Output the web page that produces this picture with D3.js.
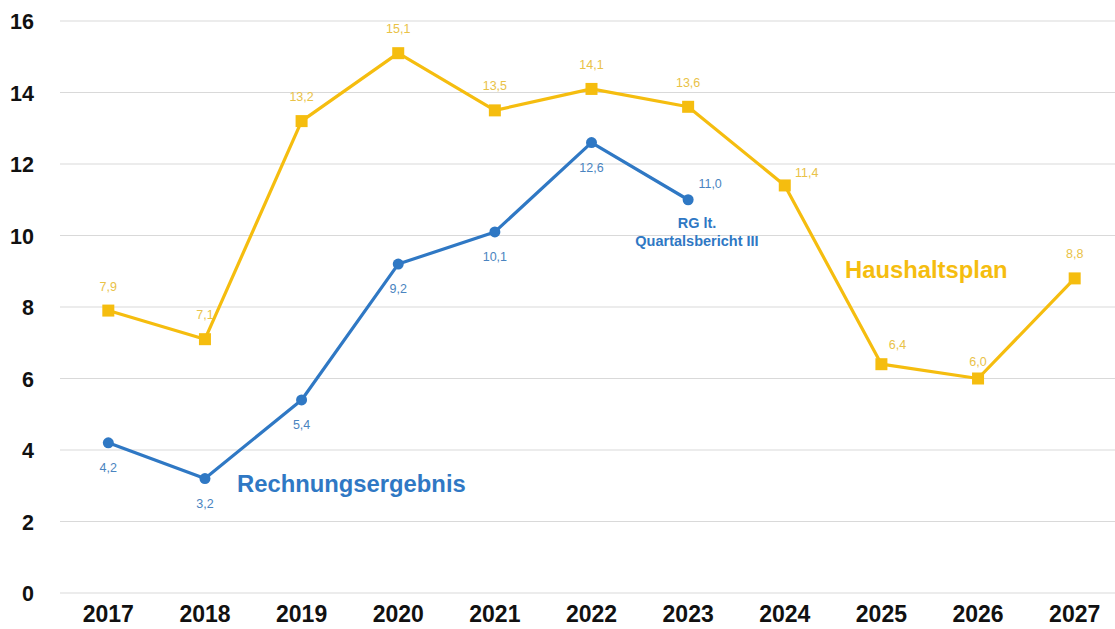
<!DOCTYPE html>
<html><head><meta charset="utf-8">
<script src="https://cdn.jsdelivr.net/npm/d3@7"></script>
<style>body{margin:0;background:#fff}svg{display:block}text{font-family:Arial,"Liberation Sans",sans-serif}</style>
</head><body>
<svg id="c" width="1115" height="629"></svg>
<script>
const years = ["2017","2018","2019","2020","2021","2022","2023","2024","2025","2026","2027"];
const yTicks = [0,2,4,6,8,10,12,14,16];
const rgYears = ["2017","2018","2019","2020","2021","2022","2023"];
const rgValues = [4.2,3.2,5.4,9.2,10.1,12.6,11.0];
const hpYears = ["2017","2018","2019","2020","2021","2022","2023","2024","2025","2026","2027"];
const hpValues = [7.9,7.1,13.2,15.1,13.5,14.1,13.6,11.4,6.4,6.0,8.8];

const blue = "#2f78c4", yellow = "#f5bd0f";
const svg = d3.select("#c");
const x = d3.scaleBand().domain(years).range([60, 1123]);
const y = d3.scaleLinear().domain([0,16]).range([593, 21]);
const cx = d => x(d) + x.bandwidth()/2;
const fmt = v => v.toFixed(1).replace(".", ",");

// grid
svg.append("g").selectAll("line").data(yTicks).join("line")
  .attr("x1", 60).attr("x2", 1115).attr("y1", d => y(d)).attr("y2", d => y(d))
  .attr("stroke", "#d9d9d9").attr("stroke-width", 1);

// y axis labels
const ya = svg.append("g").attr("transform", "translate(34,1)")
  .call(d3.axisLeft(y).tickValues(yTicks).tickSize(0).tickPadding(0));
ya.select(".domain").remove();
ya.selectAll("text").attr("font-size", 21.5).attr("font-weight", "bold").attr("fill", "#111")
  .attr("font-family", "Arial, 'Liberation Sans', sans-serif");

// x axis labels
const xa = svg.append("g").attr("transform", "translate(0,606)")
  .call(d3.axisBottom(x).tickSize(0).tickPadding(0));
xa.select(".domain").remove();
xa.selectAll("text").attr("font-size", 23).attr("font-weight", "bold").attr("fill", "#111")
  .attr("font-family", "Arial, 'Liberation Sans', sans-serif");

const line = d3.line();

// Haushaltsplan
const hp = hpYears.map((d,i) => [cx(d), y(hpValues[i]), hpValues[i], d]);
svg.append("path").attr("d", line(hp.map(p => [p[0], p[1]])))
  .attr("fill", "none").attr("stroke", yellow).attr("stroke-width", 3.2).attr("stroke-linejoin", "round");
svg.append("g").selectAll("rect").data(hp).join("rect")
  .attr("x", p => p[0]-6).attr("y", p => p[1]-6).attr("width", 12).attr("height", 12).attr("fill", yellow);
const hpOff = {"2024":[22,-8],"2025":[16,-15],"2026":[0,-13]};
svg.append("g").selectAll("text").data(hp).join("text")
  .attr("x", p => p[0] + (hpOff[p[3]] ? hpOff[p[3]][0] : 0))
  .attr("y", p => p[1] + (hpOff[p[3]] ? hpOff[p[3]][1] : -20))
  .attr("text-anchor", "middle").attr("font-size", 12.5).attr("fill", "#e9c247")
  .text(p => fmt(p[2]));

// Rechnungsergebnis
const rg = rgYears.map((d,i) => [cx(d), y(rgValues[i]), rgValues[i], d]);
svg.append("path").attr("d", line(rg.map(p => [p[0], p[1]])))
  .attr("fill", "none").attr("stroke", blue).attr("stroke-width", 3.2).attr("stroke-linejoin", "round");
svg.append("g").selectAll("circle").data(rg).join("circle")
  .attr("cx", p => p[0]).attr("cy", p => p[1]).attr("r", 5.5).attr("fill", blue);
const rgOff = {"2023":[22,-12]};
svg.append("g").selectAll("text").data(rg).join("text")
  .attr("x", p => p[0] + (rgOff[p[3]] ? rgOff[p[3]][0] : 0))
  .attr("y", p => p[1] + (rgOff[p[3]] ? rgOff[p[3]][1] : 29))
  .attr("text-anchor", "middle").attr("font-size", 12.5).attr("fill", "#4a84c0")
  .text(p => fmt(p[2]));

// annotations
svg.append("text").attr("x", 237).attr("y", 492).attr("font-size", 23.8).attr("font-weight", "bold")
  .attr("fill", blue).text("Rechnungsergebnis");
svg.append("text").attr("x", 845).attr("y", 278).attr("font-size", 23.8).attr("font-weight", "bold")
  .attr("fill", yellow).text("Haushaltsplan");
const ann = svg.append("text").attr("text-anchor", "middle").attr("font-size", 14.5).attr("font-weight", "bold").attr("fill", blue);
ann.append("tspan").attr("x", 697).attr("y", 228).text("RG  lt.");
ann.append("tspan").attr("x", 697).attr("y", 246).text("Quartalsbericht III");
</script>
</body></html>
